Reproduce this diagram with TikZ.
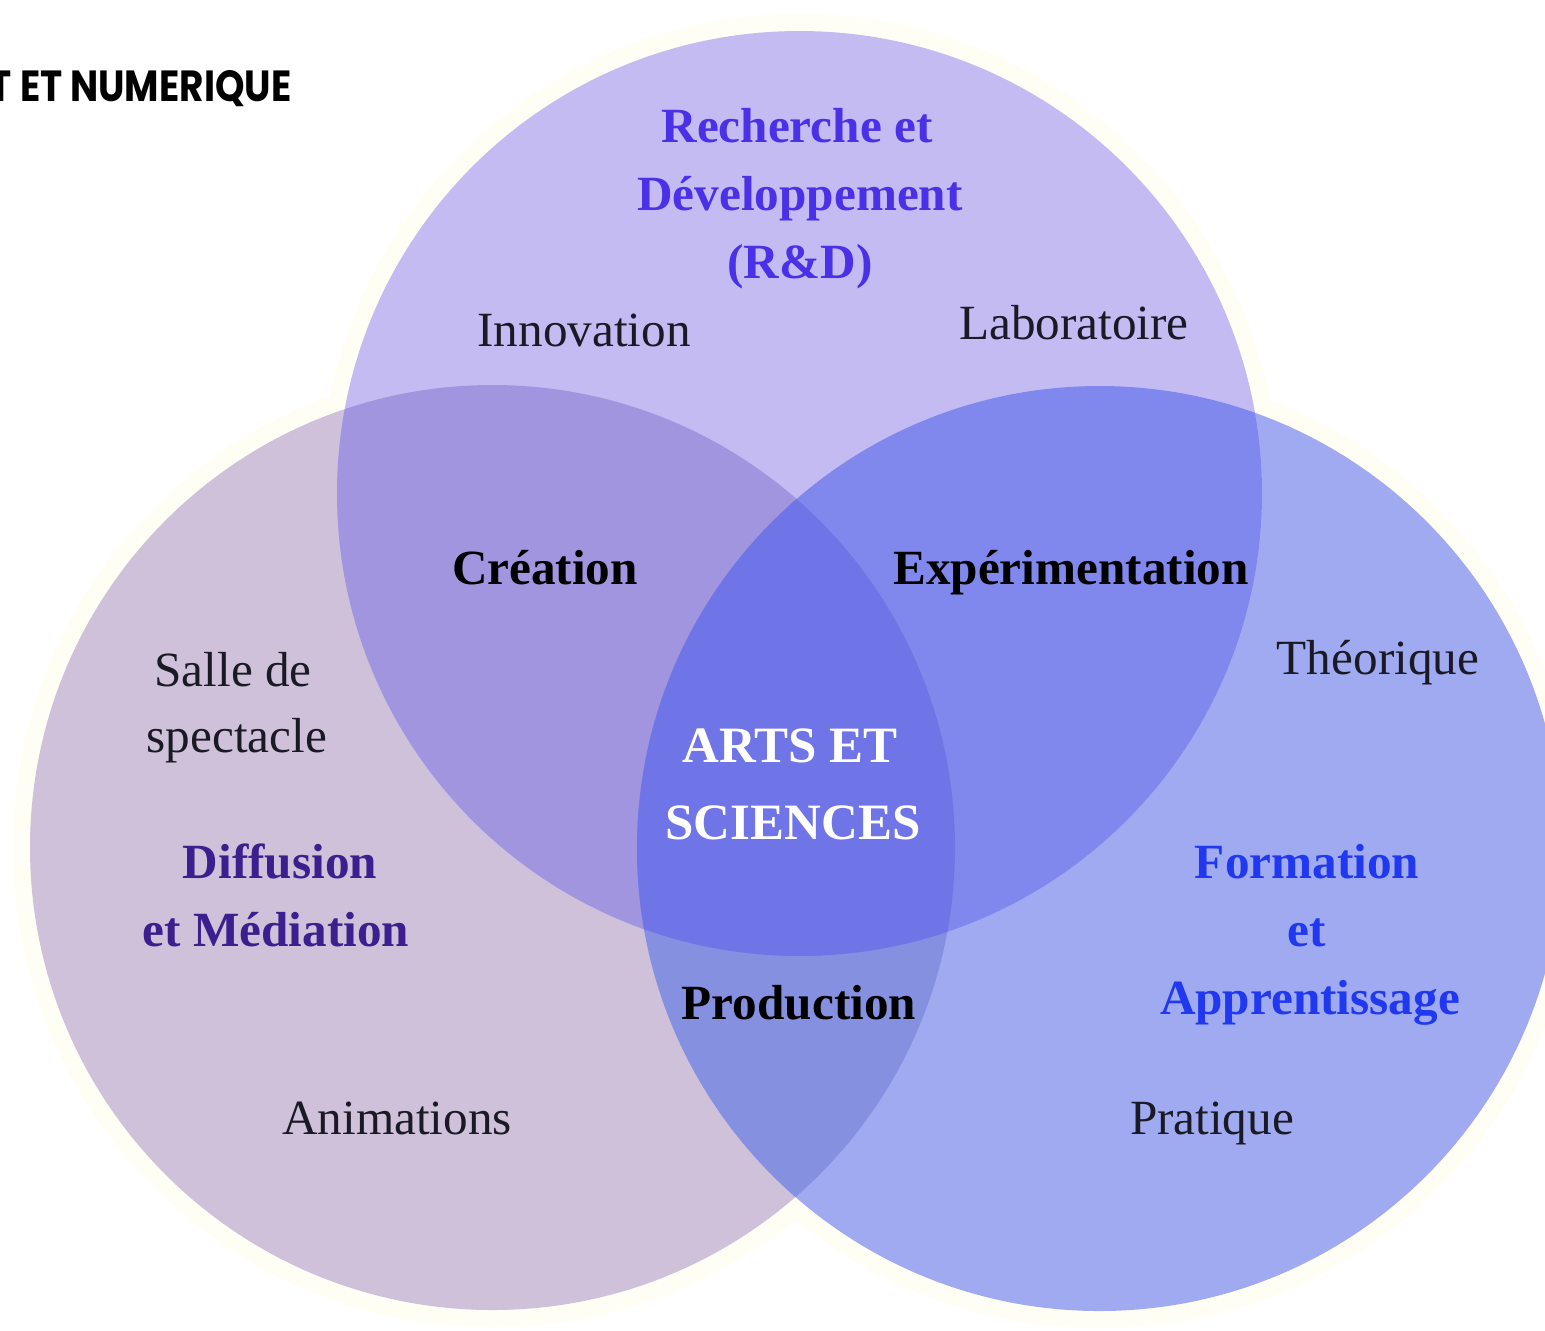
\documentclass[tikz,border=0pt]{standalone}
\usepackage{fontspec}
\setmainfont{Liberation Serif}
\newfontfamily\headfont{Poppins}
\definecolor{cream}{HTML}{FFFEF5}
\definecolor{cT}{HTML}{C4BBF3}
\definecolor{cL}{HTML}{CEC1D9}
\definecolor{cR}{HTML}{A0AAF0}
\definecolor{cTL}{HTML}{A295E0}
\definecolor{cTR}{HTML}{8088EE}
\definecolor{cLR}{HTML}{8590E0}
\definecolor{cC}{HTML}{6F75E6}
\definecolor{rdcol}{HTML}{4A30E6}
\definecolor{difcol}{HTML}{3D1E8F}
\definecolor{formcol}{HTML}{2038F0}
\definecolor{txt}{HTML}{1A1A26}
\begin{document}
\begin{tikzpicture}[
  lbl/.style={anchor=base, inner sep=0pt, font=\fontsize{14}{17}\selectfont, text=txt},
  blbl/.style={anchor=base, inner sep=0pt, font=\fontsize{14}{17}\selectfont\bfseries},
  clbl/.style={blbl, text=black},
  rdlbl/.style={blbl, text=rdcol},
  diflbl/.style={blbl, text=difcol},
  formlbl/.style={blbl, text=formcol},
  corelbl/.style={anchor=base, inner sep=0pt, font=\fontsize{14.5}{17}\selectfont\bfseries, text=white},
]
\useasboundingbox (0,0) rectangle (15.45,-13.30);
\coordinate (T) at (7.995,-4.935);
\coordinate (L) at (4.925,-8.475);
\coordinate (R) at (10.995,-8.485);
\def\rr{4.625}
% faint cream halo
\fill[cream] (T) circle (4.80);
\fill[cream] (L) circle (4.80);
\fill[cream] (R) circle (4.80);
% circles
\fill[cL] (L) circle (\rr);
\fill[cR] (R) circle (\rr);
\fill[cT] (T) circle (\rr);
\begin{scope}
  \clip (T) circle (\rr);
  \fill[cTL] (L) circle (\rr);
  \fill[cTR] (R) circle (\rr);
\end{scope}
\begin{scope}
  \clip (L) circle (\rr);
  \fill[cLR] (R) circle (\rr);
\end{scope}
\begin{scope}
  \clip (T) circle (\rr);
  \clip (L) circle (\rr);
  \fill[cC] (R) circle (\rr);
\end{scope}
% heading
\node[anchor=base east, inner sep=0pt, xscale=0.86, transform shape, font=\headfont\fontsize{12.4}{14}\selectfont\bfseries] (head) at (2.92,-1.01) {T ET NUMERIQUE};
% top circle
\node[rdlbl] (rd1) at (7.97,-1.42) {Recherche et};
\node[rdlbl] (rd2) at (8.00,-2.10) {Développement};
\node[rdlbl] (rd3) at (8.00,-2.78) {(R\&D)};
\node[lbl] (innov) at (5.84,-3.46) {Innovation};
\node[lbl] (labo) at (10.74,-3.39) {Laboratoire};
% intersections
\node[clbl] (crea) at (5.45,-5.84) {Création};
\node[clbl] (expe) at (10.71,-5.84) {Expérimentation};
\node[clbl] (prod) at (7.99,-10.19) {Production};
\node[corelbl] (core1) at (7.90,-7.62) {ARTS ET};
\node[corelbl] (core2) at (7.93,-8.39) {SCIENCES};
% left circle
\node[lbl] (salle1) at (2.33,-6.86) {Salle de};
\node[lbl] (salle2) at (2.37,-7.52) {spectacle};
\node[diflbl] (dif1) at (2.80,-8.78) {Diffusion};
\node[diflbl] (dif2) at (2.76,-9.46) {et Médiation};
\node[lbl] (anim) at (3.97,-11.34) {Animations};
% right circle
\node[lbl] (theo) at (13.78,-6.74) {Théorique};
\node[formlbl] (form1) at (13.07,-8.78) {Formation};
\node[formlbl] (form2) at (13.07,-9.46) {et};
\node[formlbl] (form3) at (13.10,-10.14) {Apprentissage};
\node[lbl] (prat) at (12.12,-11.34) {Pratique};
\end{tikzpicture}
\end{document}
